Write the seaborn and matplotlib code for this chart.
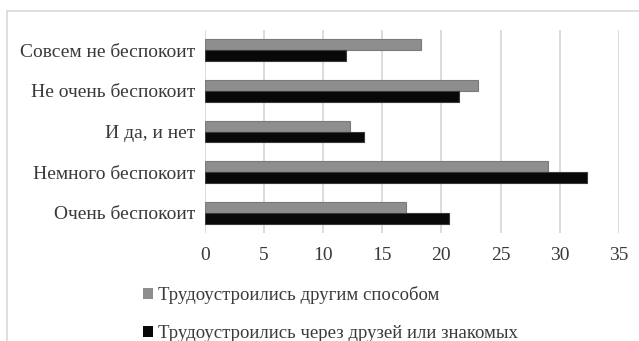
import matplotlib
matplotlib.use("Agg")
import matplotlib.pyplot as plt
from matplotlib.lines import Line2D
from matplotlib.patches import Patch
import seaborn as sns
import pandas as pd

categories = [
    "Совсем не беспокоит",
    "Не очень беспокоит",
    "И да, и нет",
    "Немного беспокоит",
    "Очень беспокоит",
]
series_names = [
    "Трудоустроились другим способом",
    "Трудоустроились через друзей или знакомых",
]
other_way = [18.3, 23.1, 12.3, 29.0, 17.0]
via_friends = [11.9, 21.5, 13.5, 32.3, 20.6]
x_ticks = [0, 5, 10, 15, 20, 25, 30, 35]

df = pd.DataFrame({
    "category": categories * 2,
    "series": [series_names[0]] * len(categories) + [series_names[1]] * len(categories),
    "value": other_way + via_friends,
})

sns.set_theme(style="white")
plt.rcParams["font.family"] = ["Liberation Serif", "DejaVu Serif"]
text_color = "#3a3a3a"
fs = 14

fig = plt.figure(figsize=(6.39, 3.41), dpi=100)
ax = fig.add_axes([0.3203, 0.3167, 0.6484, 0.5953])

palette = {series_names[0]: "#8e8e8e", series_names[1]: "#080808"}
edges = ["#7a7a7a", "#3a3a3a"]
sns.barplot(
    data=df, x="value", y="category", hue="series",
    order=categories, hue_order=series_names, palette=palette,
    orient="h", width=0.54, ax=ax, legend=False, saturation=1,
)
for container, ec in zip(ax.containers, edges):
    for bar in container:
        bar.set_edgecolor(ec)
        bar.set_linewidth(0.8)

ax.set_xlim(0, 35)
ax.set_xticks(x_ticks)
ax.set_xticklabels([str(t) for t in x_ticks])
ax.xaxis.grid(True, color="#d9d9d9", linewidth=1.3)
ax.yaxis.grid(False)
ax.set_axisbelow(True)
for s in ax.spines.values():
    s.set_visible(False)
ax.set_xlabel("")
ax.set_ylabel("")
ax.tick_params(axis="x", length=0, pad=10, labelsize=fs, labelcolor=text_color)
ax.tick_params(axis="y", length=0, pad=7, labelsize=fs, labelcolor=text_color)

handles = [Patch(facecolor=palette[n], edgecolor="none") for n in series_names]
fig.legend(
    handles, series_names, loc="upper left",
    bbox_to_anchor=(134 / 639, 1 - 277 / 341),
    frameon=False, handlelength=0.5, handleheight=0.5, handletextpad=0.3,
    labelspacing=1.1, fontsize=13.5, labelcolor=text_color, borderpad=0,
)

# outer frame (top and left edges)
fig.add_artist(Line2D([7 / 639, 7 / 639], [0, 1 - 11 / 341],
                      transform=fig.transFigure, color="#d9d9d9", linewidth=1.2))
fig.add_artist(Line2D([7 / 639, 1], [1 - 11 / 341, 1 - 11 / 341],
                      transform=fig.transFigure, color="#d9d9d9", linewidth=1.2))

fig.savefig("out.png", dpi=100, facecolor="white")
